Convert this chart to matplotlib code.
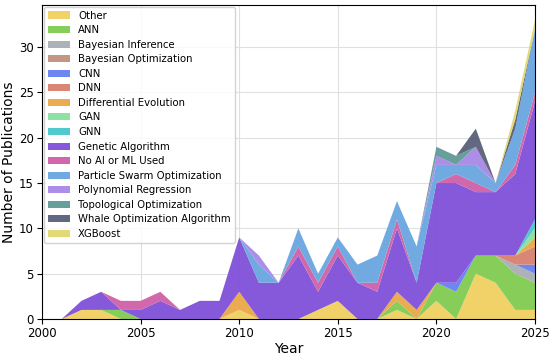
import matplotlib.pyplot as plt

years = list(range(2001, 2026))

# publications per year and method (2001..2025)
other      = [0,1,1,0,0,0,0,0,0,1,0,0,0,1,2,0,0,1,0,2,0,5,4,1,1]
ann        = [0,0,0,1,0,0,0,0,0,0,0,0,0,0,0,0,0,1,0,2,3,2,3,4,3]
bayes_inf  = [0,0,0,0,0,0,0,0,0,0,0,0,0,0,0,0,0,0,0,0,0,0,0,1,1]
bayes_opt  = [0,0,0,0,0,0,0,0,0,0,0,0,0,0,0,0,0,0,0,0,0,0,0,0,0]
cnn        = [0,0,0,0,0,0,0,0,0,0,0,0,0,0,0,0,0,0,0,0,1,0,0,0,1]
dnn        = [0,0,0,0,0,0,0,0,0,0,0,0,0,0,0,0,0,0,0,0,0,0,0,1,2]
diff_evo   = [0,0,0,0,0,0,0,0,0,2,0,0,0,0,0,0,0,1,1,0,0,0,0,0,1]
gan        = [0,0,0,0,0,0,0,0,0,0,0,0,0,0,0,0,0,0,0,0,0,0,0,0,1]
gnn        = [0,0,0,0,0,0,0,0,0,0,0,0,0,0,0,0,0,0,0,0,0,0,0,0,1]
genetic    = [0,1,2,0,1,2,1,2,2,6,4,4,7,2,5,4,3,7,3,11,11,7,7,9,13]
no_ai      = [0,0,0,1,1,1,0,0,0,0,0,0,1,1,1,0,1,1,0,0,1,1,0,1,1]
pso        = [0,0,0,0,0,0,0,0,0,0,2,0,2,1,1,2,3,2,4,2,1,2,1,4,7]
poly_reg   = [0,0,0,0,0,0,0,0,0,0,1,0,0,0,0,0,0,0,0,1,0,2,0,0,0]
topo_opt   = [0,0,0,0,0,0,0,0,0,0,0,0,0,0,0,0,0,0,0,1,1,0,0,0,0]
whale      = [0,0,0,0,0,0,0,0,0,0,0,0,0,0,0,0,0,0,0,0,0,2,0,1,0]
xgboost    = [0,0,0,0,0,0,0,0,0,0,0,0,0,0,0,0,0,0,0,0,0,0,0,1,1]

labels = ['Other', 'ANN', 'Bayesian Inference', 'Bayesian Optimization', 'CNN', 'DNN',
          'Differential Evolution', 'GAN', 'GNN', 'Genetic Algorithm', 'No AI or ML Used',
          'Particle Swarm Optimization', 'Polynomial Regression', 'Topological Optimization',
          'Whale Optimization Algorithm', 'XGBoost']
series = [other, ann, bayes_inf, bayes_opt, cnn, dnn, diff_evo, gan, gnn, genetic,
          no_ai, pso, poly_reg, topo_opt, whale, xgboost]
colors = ['#f0d060', '#80cc50', '#a8aeb4', '#c0907c', '#6680f0', '#d88070',
          '#eaa848', '#88e0a0', '#48c8cc', '#8050d8', '#d060a8', '#68a6e0',
          '#a888e8', '#609a98', '#586078', '#e0d870']

fig = plt.figure(figsize=(5.5, 3.56), dpi=100)
ax = fig.add_axes([0.0764, 0.104, 0.8963, 0.882])
ax.stackplot(years, *series, labels=labels, colors=colors, alpha=0.95)

ax.set_xlim(2000, 2025)
ax.set_ylim(0, 34.65)
ax.set_xticks([2000, 2005, 2010, 2015, 2020, 2025])
ax.set_yticks([0, 5, 10, 15, 20, 25, 30])
ax.grid(True, color='#e0e0e0', linewidth=0.8)
ax.set_axisbelow(True)
ax.tick_params(labelsize=8.5, pad=2.5)
ax.set_xlabel('Year', fontsize=10, labelpad=1.5)
ax.set_ylabel('Number of Publications', fontsize=10, labelpad=2)
ax.legend(loc='upper left', fontsize=7.3, labelspacing=0.45, handlelength=2.2,
          borderaxespad=0.15, framealpha=0.85)

fig.savefig('out.png', dpi=100)
